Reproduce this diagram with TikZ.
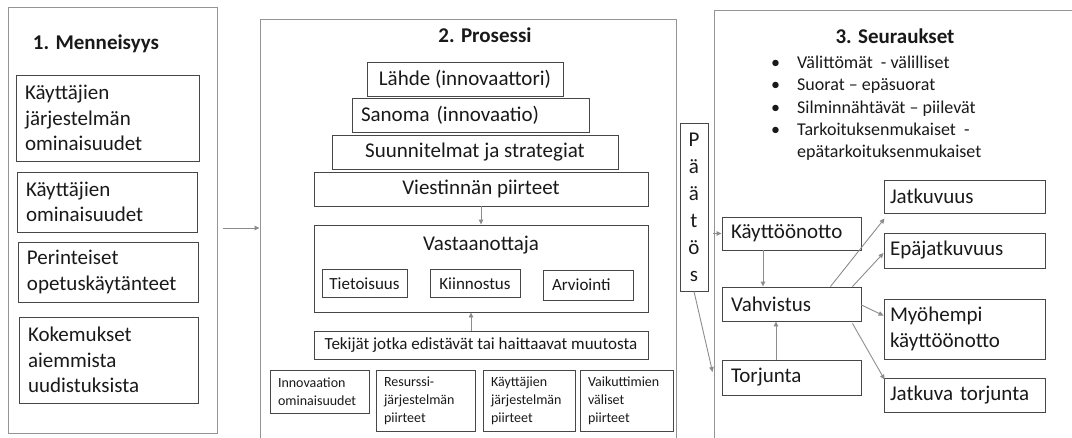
\documentclass[tikz,border=0pt]{standalone}
\usepackage{fontspec}
\setmainfont{Carlito}
\usetikzlibrary{arrows.meta}
\definecolor{ink}{gray}{0.1}

\begin{document}
\begin{tikzpicture}[x=1pt, y=-1pt,
		panel/.style={draw=black!42, line width=1pt, inner sep=0pt},
		box/.style={draw=black!72, line width=0.9pt, inner sep=0pt, text=ink},
		lbox/.style={box, align=left, inner xsep=9pt},
		big/.style={font=\fontsize{21}{25.5}\selectfont},
		mid/.style={font=\fontsize{17}{20}\selectfont},
		small/.style={font=\fontsize{14}{18}\selectfont},
		title/.style={text=ink, inner sep=0pt, anchor=base, font=\fontsize{21}{25}\selectfont\bfseries},
		arr/.style={draw=black!45, line width=0.9pt, -{Triangle[length=5pt,width=4.5pt]}}]
			%%%%% START %%%%%
			\useasboundingbox (0,0) rectangle (1072,437);
			
			% panels
			\node[panel, minimum width=209, minimum height=426] (past) at (112.5,220) {};
			\node[panel, minimum width=416, minimum height=426] (proc) at (468,232) {};
			\node[panel, minimum width=366, minimum height=435] (result) at (897,227.5) {};
			
			\node[title] (pastT) at (96,49) {1. Menneisyys};
			\node[title] (procT) at (485,42) {2. Prosessi};
			\node[title] (resultT) at (895,43) {3. Seuraukset};
			
			% 1. Menneisyys
			\node[lbox, big, minimum width=183, minimum height=86, text width=165] (sysProps) at (107.5,118) {Käyttäjien\\järjestelmän\\ominaisuudet};
			\node[lbox, big, minimum width=180, minimum height=60, text width=162] (userProps) at (107,202) {Käyttäjien\\ominaisuudet};
			\node[lbox, big, minimum width=180, minimum height=60, text width=162] (practice) at (108,272) {Perinteiset\\opetuskäytänteet};
			\node[lbox, big, minimum width=179, minimum height=86, text width=161] (reforms) at (108.5,360) {Kokemukset\\aiemmista\\uudistuksista};
			
			% 2. Prosessi
			\node[box, big, minimum width=196, minimum height=34] (source) at (465,79) {Lähde (innovaattori)};
			\node[lbox, big, minimum width=237, minimum height=34, text width=219] (message) at (470.5,115) {Sanoma (innovaatio)};
			\node[box, big, minimum width=286, minimum height=34] (plans) at (475,152) {Suunnitelmat ja strategiat};
			\node[box, big, minimum width=334, minimum height=34] (channel) at (481,189) {Viestinnän piirteet};
			
			\node[box, minimum width=334, minimum height=87] (receiver) at (481,268.5) {};
			\node[big, text=ink, inner sep=0pt] (receiverT) at (481,245) {Vastaanottaja};
			\node[box, mid, minimum width=85, minimum height=28] (aware) at (364.5,283.5) {Tietoisuus};
			\node[box, mid, minimum width=90, minimum height=28] (interest) at (475,283.5) {Kiinnostus};
			\node[lbox, mid, minimum width=90, minimum height=30, text width=72] (evaluate) at (588,285) {Arviointi};
			
			\node[box, mid, minimum width=334, minimum height=28] (factors) at (481,345) {Tekijät jotka edistävät tai haittaavat muutosta};
			
			\node[lbox, small, inner xsep=8pt, minimum width=99, minimum height=43, text width=83] (innov) at (319.5,391.5) {Innovaation\\ominaisuudet};
			\node[lbox, small, inner xsep=8pt, minimum width=99, minimum height=61, text width=83] (resource) at (425.5,400.5) {Resurssi-\\järjestelmän\\piirteet};
			\node[lbox, small, inner xsep=8pt, minimum width=92, minimum height=61, text width=76] (usersys) at (529,400.5) {Käyttäjien\\järjestelmän\\piirteet};
			\node[lbox, small, inner xsep=8pt, minimum width=93, minimum height=61, text width=77] (actors) at (626.5,400.5) {Vaikuttimien\\väliset\\piirteet};
			
			% Päätös
			\node[box, align=center, font=\fontsize{21}{27}\selectfont, minimum width=28, minimum height=168] (decision) at (694,207) {P\\ä\\ä\\t\\ö\\s};
			
			% 3. Seuraukset
			\node[text=ink, inner sep=0pt, anchor=north west, align=left, font=\fontsize{18}{22.2}\selectfont] (kinds) at (771,56) {%
				\makebox[26pt][l]{\textbullet}Välittömät\ \ - välilliset\\
				\makebox[26pt][l]{\textbullet}Suorat – epäsuorat\\
				\makebox[26pt][l]{\textbullet}Silminnähtävät – piilevät\\
				\makebox[26pt][l]{\textbullet}Tarkoituksenmukaiset\ \ -\\
				\hspace*{26pt}epätarkoituksenmukaiset};
			
			\node[lbox, big, minimum width=139, minimum height=33, text width=121] (adopt) at (791.5,233.5) {Käyttöönotto};
			\node[lbox, big, minimum width=139, minimum height=34, text width=121] (confirm) at (791.5,304) {Vahvistus};
			\node[lbox, big, minimum width=139, minimum height=35, text width=121] (reject) at (791.5,377.5) {Torjunta};
			
			\node[lbox, big, inner xsep=6pt, minimum width=161, minimum height=33, text width=149] (cont) at (964.5,196.5) {Jatkuvuus};
			\node[lbox, big, inner xsep=6pt, minimum width=161, minimum height=35, text width=149] (discont) at (964.5,250.5) {Epäjatkuvuus};
			\node[lbox, big, inner xsep=6pt, minimum width=161, minimum height=60, text width=149] (late) at (964.5,329) {Myöhempi\\käyttöönotto};
			\node[lbox, big, inner xsep=6pt, minimum width=161, minimum height=34, text width=149] (contrej) at (964.5,395) {Jatkuva torjunta};
			
			% arrows
			\draw[arr, shorten <=5pt] ([yshift=-8pt]past.east) -- ([yshift=4pt]proc.west);
			\draw[arr] (channel) -- (receiver);
			\draw[arr] ([xshift=-10pt]factors.north) -- ([xshift=-10pt]receiver.south);
			
			\draw[arr, shorten <=5pt] (decision.east |- adopt.west) -- (adopt.west);
			\draw[arr] (decision.south) -- ([xshift=-9pt,yshift=5.5pt]reject.west);
			\draw[arr] ([xshift=-28.5pt]adopt.south) -- ([xshift=-28.5pt]confirm.north);
			\draw[arr] ([xshift=-15.5pt]reject.north) -- ([xshift=-15.5pt]confirm.south);
			
			\draw[arr] ([xshift=-31pt]confirm.north east) -- ([xshift=1pt,yshift=-5pt]cont.south west);
			\draw[arr] ([xshift=-9pt]confirm.north east) -- ([yshift=-2.5pt]discont.west);
			\draw[arr] ([yshift=-1pt]confirm.east) -- ([yshift=-17pt]late.north west);
			\draw[arr] ([xshift=-9pt,yshift=-2pt]confirm.south east) -- ([xshift=1pt,yshift=-2pt]contrej.north west);
			%%%%% END %%%%%
\end{tikzpicture}
\end{document}
